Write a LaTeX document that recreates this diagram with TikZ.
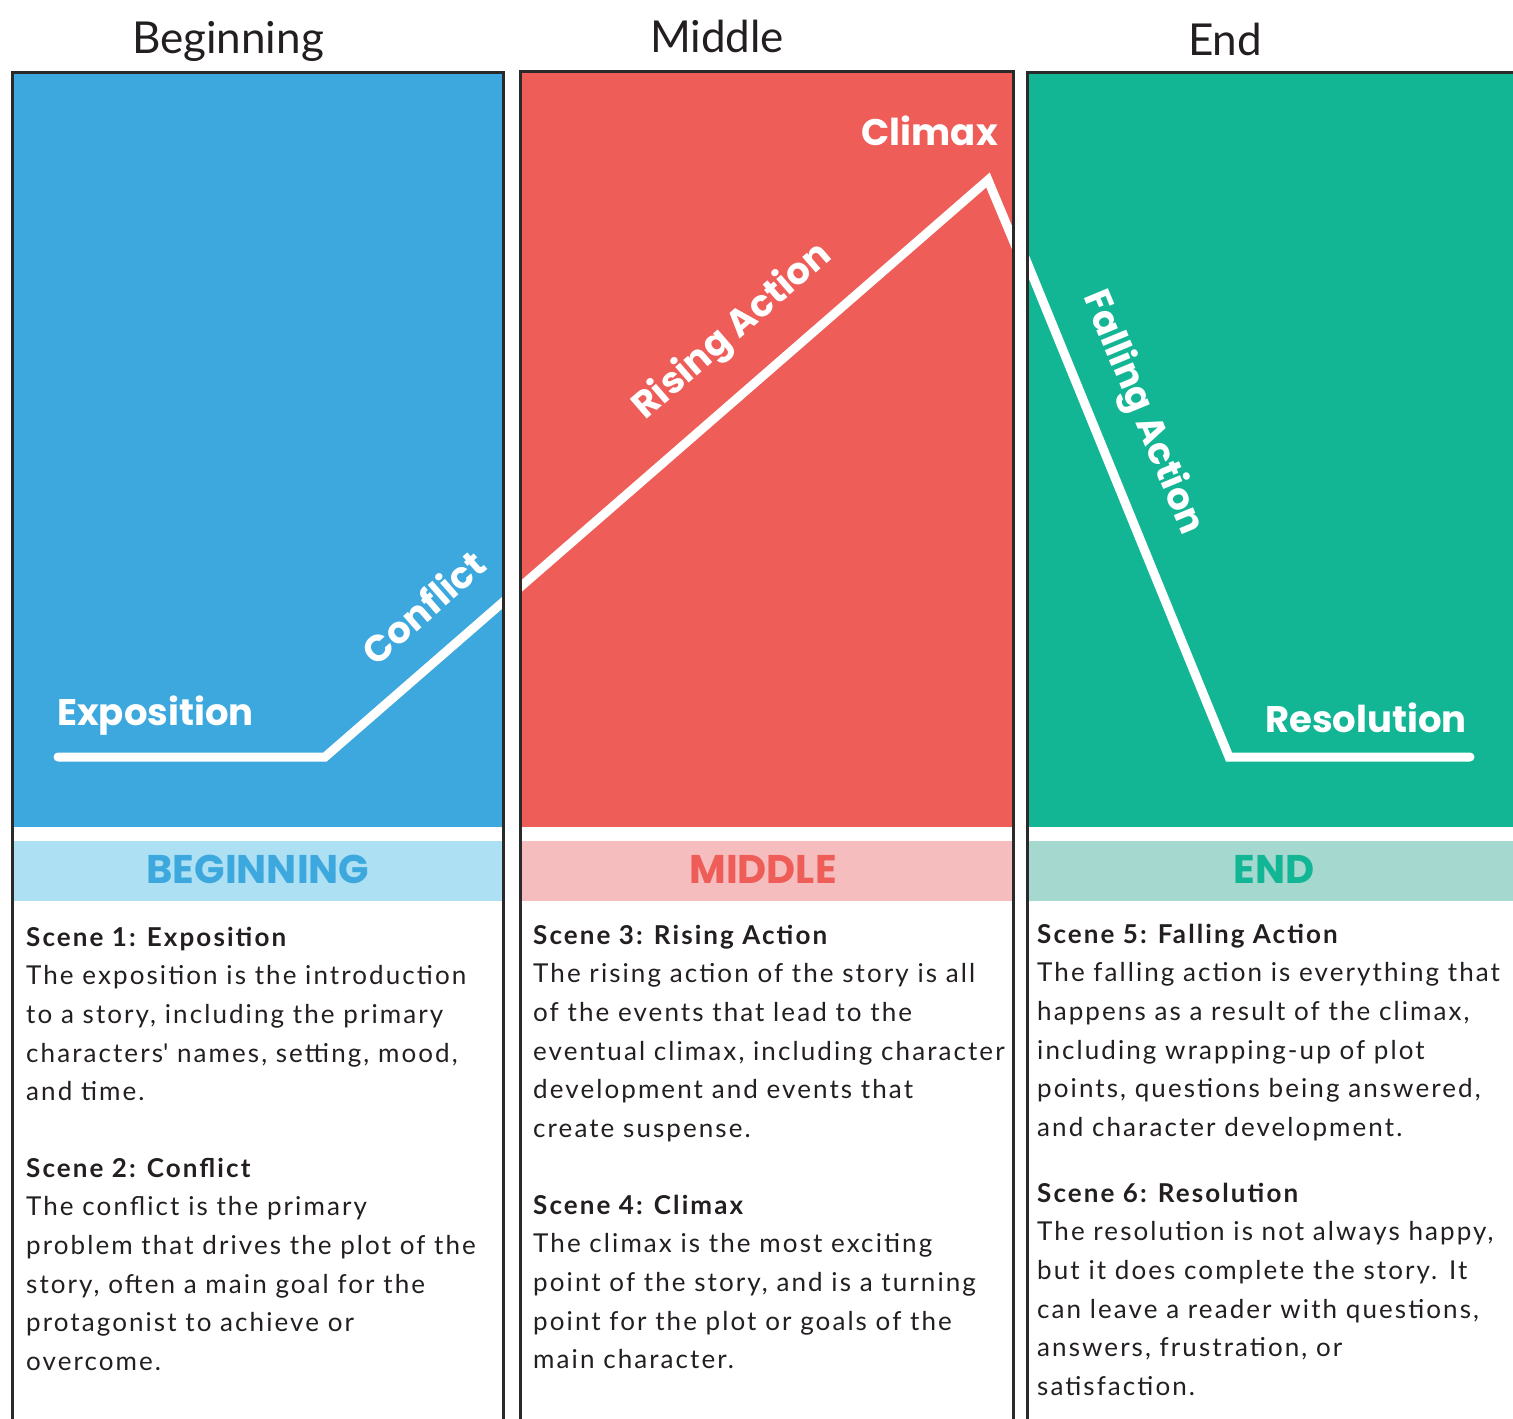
\documentclass[tikz,border=0pt]{standalone}
\usepackage{fontspec}
\setmainfont{Lato}
\newfontfamily\bodyfont[LetterSpace=8]{Lato}
\newfontfamily\labelfont{Poppins}
\definecolor{bblue}{HTML}{3DA8DE}
\definecolor{lblue}{HTML}{AEE0F4}
\definecolor{rred}{HTML}{EE5D58}
\definecolor{lred}{HTML}{F5BDBD}
\definecolor{ggreen}{HTML}{12B695}
\definecolor{lgreen}{HTML}{A5D9D0}
\definecolor{ink}{HTML}{231F20}
\definecolor{frame}{HTML}{2A2A2A}
\tikzset{
  panelframe/.style={draw=frame, line width=3pt},
  plotline/.style={draw=white, line width=9pt, line join=miter, line cap=round},
  arclabel/.style={text=white, font=\labelfont\bfseries\fontsize{37}{40}\selectfont, inner sep=0pt},
  bandlabel/.style={font=\labelfont\bfseries\fontsize{40}{44}\selectfont, inner sep=0pt, anchor=base},
  title/.style={text=ink, font=\fontsize{44}{48}\selectfont, inner sep=0pt, anchor=base},
  body/.style={text=ink, inner sep=0pt, anchor=base west}
}
\newcommand{\blocktext}[1]{\parbox[t]{520pt}{\raggedright\bodyfont\fontsize{26}{38.7}\selectfont #1}}
\begin{document}
\begin{tikzpicture}[x=1pt,y=-1pt]
\useasboundingbox (0,0) rectangle (1513,1419);
\fill[white] (0,0) rectangle (1513,1419);

% titles
\node[title] (tbeg) at (228,53) {Beginning};
\node[title] (tmid) at (717,52) {Middle};
\node[title] (tend) at (1225,55) {End};

% panel fills
\fill[bblue] (12,72.5) rectangle (503.5,827);
\fill[lblue] (12,841) rectangle (503.5,901);
\fill[rred] (520,71.3) rectangle (1013.5,827);
\fill[lred] (520,841) rectangle (1013.5,901);
\fill[ggreen] (1027,72) rectangle (1520,827);
\fill[lgreen] (1027,841) rectangle (1520,901);

% plot lines
\begin{scope}
\clip (12,72.5) rectangle (503.5,827);
\draw[plotline] (58,757) -- (325,757) -- (988,180) -- (1229,757);
\end{scope}
\begin{scope}
\clip (520,71.3) rectangle (1013.5,827);
\draw[plotline] (58,757) -- (325,757) -- (988,180) -- (1229,757);
\end{scope}
\begin{scope}
\clip (1027,72) rectangle (1520,827);
\draw[plotline] (1013,228) -- (1229,757) -- (1470,757);
\end{scope}

% arc labels
\node[arclabel, anchor=base west] (lexpo) at (57,725) {Exposition};
\node[arclabel, rotate=41.3] (lconf) at (423,607) {Conflict};
\node[arclabel, rotate=41] (lrise) at (733,332) {Rising Action};
\node[arclabel, anchor=base east] (lclim) at (998,145) {Climax};
\node[arclabel, rotate=-67.5] (lfall) at (1142,413) {Falling Action};
\node[arclabel, anchor=base east] (lreso) at (1467,732) {Resolution};

% band labels
\node[bandlabel, text=bblue] (bbeg) at (258,883) {BEGINNING};
\node[bandlabel, text=rred] (bmid) at (763,883) {MIDDLE};
\node[bandlabel, text=ggreen] (bend) at (1274,883) {END};

% frames
\draw[panelframe] (12,1430) -- (12,72.5) -- (503.5,72.5) -- (503.5,1430);
\draw[panelframe] (520,1430) -- (520,71.3) -- (1013.5,71.3) -- (1013.5,1430);
\draw[panelframe] (1027,1430) -- (1027,72) -- (1530,72);

% body text
\node[body] (s1) at (26,946) {\blocktext{\textbf{Scene 1: Exposition}\\
The exposition is the introduction\\
to a story, including the primary\\
characters\textquotesingle\ names, setting, mood,\\
and time.}};
\node[body] (s2) at (26,1177) {\blocktext{\textbf{Scene 2: Conflict}\\
The conflict is the primary\\
problem that drives the plot of the\\
story, often a main goal for the\\
protagonist to achieve or\\
overcome.}};
\node[body] (s3) at (533,944) {\blocktext{\textbf{Scene 3: Rising Action}\\
The rising action of the story is all\\
of the events that lead to the\\
eventual climax, including character\\
development and events that\\
create suspense.}};
\node[body] (s4) at (533,1214) {\blocktext{\textbf{Scene 4: Climax}\\
The climax is the most exciting\\
point of the story, and is a turning\\
point for the plot or goals of the\\
main character.}};
\node[body] (s5) at (1037,943) {\blocktext{\textbf{Scene 5: Falling Action}\\
The falling action is everything that\\
happens as a result of the climax,\\
including wrapping-up of plot\\
points, questions being answered,\\
and character development.}};
\node[body] (s6) at (1037,1202) {\blocktext{\textbf{Scene 6: Resolution}\\
The resolution is not always happy,\\
but it does complete the story. It\\
can leave a reader with questions,\\
answers, frustration, or\\
satisfaction.}};
\end{tikzpicture}
\end{document}
